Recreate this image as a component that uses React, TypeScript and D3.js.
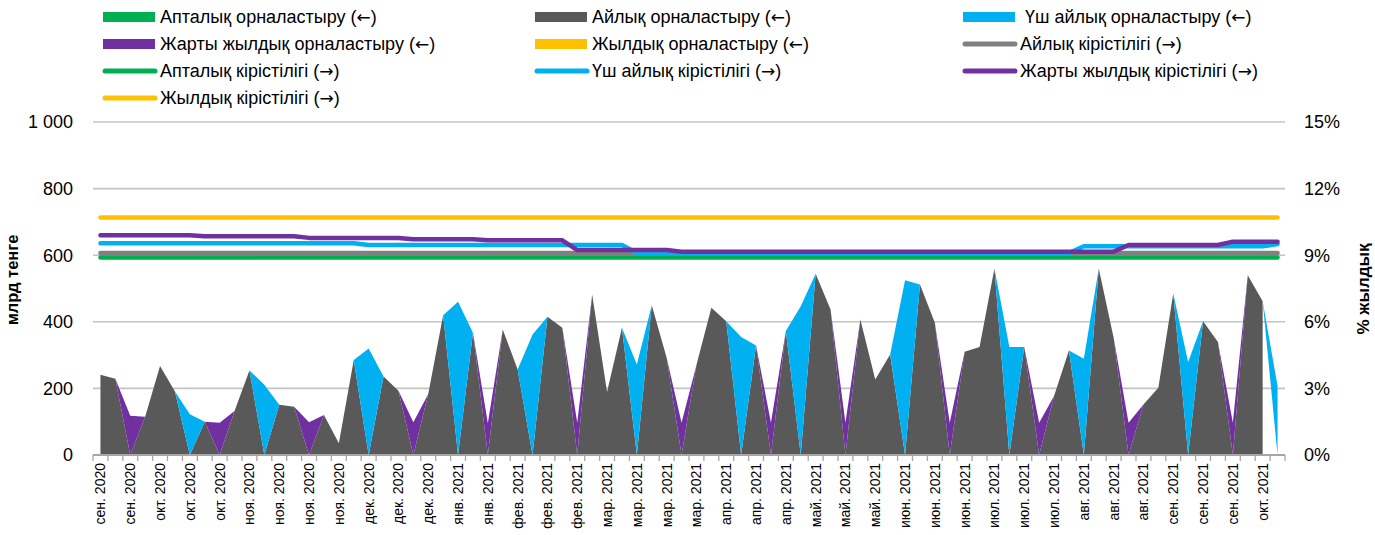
import React from "react";
import * as d3 from "d3";

// ---- Data ----
const tickLabels = [
  "сен. 2020", "сен. 2020", "окт. 2020", "окт. 2020", "окт. 2020",
  "ноя. 2020", "ноя. 2020", "ноя. 2020", "ноя. 2020", "дек. 2020",
  "дек. 2020", "дек. 2020", "янв. 2021", "янв. 2021", "фев. 2021",
  "фев. 2021", "фев. 2021", "мар. 2021", "мар. 2021", "мар. 2021",
  "мар. 2021", "апр. 2021", "апр. 2021", "апр. 2021", "май. 2021",
  "май. 2021", "май. 2021", "июн. 2021", "июн. 2021", "июн. 2021",
  "июл. 2021", "июл. 2021", "июл. 2021", "авг. 2021", "авг. 2021",
  "авг. 2021", "сен. 2021", "сен. 2021", "сен. 2021", "окт. 2021",
];

// placements, bn tenge (left axis), one value per auction date
const weeklyPlacement = [
  0, 0, 0, 0, 0, 0, 0, 0, 0, 0,
  0, 0, 0, 0, 0, 0, 0, 0, 0, 0,
  0, 0, 0, 0, 0, 0, 0, 0, 0, 0,
  0, 0, 0, 0, 0, 0, 0, 0, 0, 0,
  0, 0, 0, 0, 0, 0, 0, 0, 0, 0,
  0, 0, 0, 0, 0, 0, 0, 0, 0, 0,
  0, 0, 0, 0, 0, 0, 0, 0, 0, 0,
  0, 0, 0, 0, 0, 0, 0, 0, 0, 0,
];
const monthlyPlacement: (number | null)[] = [
  241, 229, 0, 115, 267, 191, 0, 100, 0, 132,
  254, 0, 151, 145, 0, 120, 35, 285, 0, 236,
  193, 0, 183, 420, 0, 367, 0, 377, 257, 0,
  415, 382, 0, 482, 189, 382, 0, 450, 292, 0,
  270, 442, 402, 0, 329, 0, 372, 0, 544, 437,
  0, 407, 227, 302, 0, 512, 397, 0, 310, 324,
  560, 0, 324, 0, 177, 314, 0, 560, 352, 0,
  152, 202, 485, 0, 402, 339, 0, 540, 462, null,
];
const threeMonthPlacement = [
  0, 0, 0, 0, 0, 0, 122, 0, 0, 0,
  0, 211, 0, 0, 0, 0, 0, 0, 320, 0,
  0, 0, 0, 0, 460, 0, 0, 0, 0, 362,
  0, 0, 0, 0, 0, 0, 272, 0, 0, 0,
  0, 0, 0, 354, 0, 0, 0, 447, 0, 0,
  0, 0, 0, 0, 525, 0, 0, 0, 0, 0,
  0, 324, 0, 0, 0, 0, 289, 0, 0, 0,
  0, 0, 0, 279, 0, 0, 0, 0, 0, 207,
];
const halfYearPlacement = [
  0, 0, 118, 0, 0, 0, 0, 0, 97, 0,
  0, 0, 0, 0, 98, 0, 0, 0, 0, 0,
  0, 98, 0, 0, 0, 0, 95, 0, 0, 0,
  0, 0, 97, 0, 0, 0, 0, 0, 0, 97,
  0, 0, 0, 0, 0, 97, 0, 0, 0, 0,
  97, 0, 0, 0, 0, 0, 0, 97, 0, 0,
  0, 0, 0, 97, 0, 0, 0, 0, 0, 97,
  0, 0, 0, 0, 0, 0, 97, 0, 0, 0,
];
const yearlyPlacement = [
  0, 0, 0, 0, 0, 0, 0, 0, 0, 0,
  0, 0, 0, 0, 0, 0, 0, 0, 0, 0,
  0, 0, 0, 0, 0, 0, 0, 0, 0, 0,
  0, 0, 0, 0, 0, 0, 0, 0, 0, 0,
  0, 0, 0, 0, 0, 0, 0, 0, 0, 0,
  0, 0, 0, 0, 0, 0, 0, 0, 0, 0,
  0, 0, 0, 0, 0, 0, 0, 0, 0, 0,
  0, 0, 0, 0, 0, 0, 0, 0, 0, 0,
];

// yields, % p.a. (right axis)
const monthlyYield = [
  9.1, 9.1, 9.1, 9.1, 9.1, 9.1, 9.1, 9.1, 9.1, 9.1,
  9.1, 9.1, 9.1, 9.1, 9.1, 9.1, 9.1, 9.1, 9.1, 9.1,
  9.1, 9.1, 9.1, 9.1, 9.1, 9.1, 9.1, 9.1, 9.1, 9.1,
  9.1, 9.1, 9.1, 9.1, 9.1, 9.1, 9.1, 9.1, 9.1, 9.1,
  9.1, 9.1, 9.1, 9.1, 9.1, 9.1, 9.1, 9.1, 9.1, 9.1,
  9.1, 9.1, 9.1, 9.1, 9.1, 9.1, 9.1, 9.1, 9.1, 9.1,
  9.1, 9.1, 9.1, 9.1, 9.1, 9.1, 9.1, 9.1, 9.1, 9.1,
  9.1, 9.1, 9.1, 9.1, 9.1, 9.1, 9.1, 9.1, 9.1, 9.1,
];
const weeklyYield = [
  8.9, 8.9, 8.9, 8.9, 8.9, 8.9, 8.9, 8.9, 8.9, 8.9,
  8.9, 8.9, 8.9, 8.9, 8.9, 8.9, 8.9, 8.9, 8.9, 8.9,
  8.9, 8.9, 8.9, 8.9, 8.9, 8.9, 8.9, 8.9, 8.9, 8.9,
  8.9, 8.9, 8.9, 8.9, 8.9, 8.9, 8.9, 8.9, 8.9, 8.9,
  8.9, 8.9, 8.9, 8.9, 8.9, 8.9, 8.9, 8.9, 8.9, 8.9,
  8.9, 8.9, 8.9, 8.9, 8.9, 8.9, 8.9, 8.9, 8.9, 8.9,
  8.9, 8.9, 8.9, 8.9, 8.9, 8.9, 8.9, 8.9, 8.9, 8.9,
  8.9, 8.9, 8.9, 8.9, 8.9, 8.9, 8.9, 8.9, 8.9, 8.9,
];
const threeMonthYield = [
  9.54, 9.54, 9.54, 9.54, 9.54, 9.54, 9.54, 9.54, 9.54, 9.54,
  9.54, 9.54, 9.54, 9.54, 9.54, 9.54, 9.54, 9.54, 9.46, 9.46,
  9.46, 9.46, 9.46, 9.46, 9.46, 9.46, 9.46, 9.46, 9.46, 9.46,
  9.46, 9.46, 9.46, 9.46, 9.46, 9.46, 9.1, 9.1, 9.1, 9.1,
  9.1, 9.1, 9.1, 9.1, 9.1, 9.1, 9.1, 9.1, 9.1, 9.1,
  9.1, 9.1, 9.1, 9.1, 9.1, 9.1, 9.1, 9.1, 9.1, 9.1,
  9.1, 9.1, 9.1, 9.1, 9.1, 9.1, 9.4, 9.4, 9.4, 9.4,
  9.4, 9.4, 9.4, 9.4, 9.4, 9.4, 9.4, 9.4, 9.4, 9.5,
];
const halfYearYield = [
  9.9, 9.9, 9.9, 9.9, 9.9, 9.9, 9.9, 9.85, 9.85, 9.85,
  9.85, 9.85, 9.85, 9.85, 9.78, 9.78, 9.78, 9.78, 9.78, 9.78,
  9.78, 9.72, 9.72, 9.72, 9.72, 9.72, 9.67, 9.67, 9.67, 9.67,
  9.67, 9.67, 9.23, 9.23, 9.23, 9.23, 9.23, 9.23, 9.23, 9.16,
  9.16, 9.16, 9.16, 9.16, 9.16, 9.16, 9.16, 9.16, 9.16, 9.16,
  9.16, 9.16, 9.16, 9.16, 9.16, 9.16, 9.16, 9.16, 9.16, 9.16,
  9.16, 9.16, 9.16, 9.16, 9.16, 9.16, 9.16, 9.16, 9.16, 9.46,
  9.46, 9.46, 9.46, 9.46, 9.46, 9.46, 9.61, 9.61, 9.61, 9.61,
];
const yearlyYield = [
  10.7, 10.7, 10.7, 10.7, 10.7, 10.7, 10.7, 10.7, 10.7, 10.7,
  10.7, 10.7, 10.7, 10.7, 10.7, 10.7, 10.7, 10.7, 10.7, 10.7,
  10.7, 10.7, 10.7, 10.7, 10.7, 10.7, 10.7, 10.7, 10.7, 10.7,
  10.7, 10.7, 10.7, 10.7, 10.7, 10.7, 10.7, 10.7, 10.7, 10.7,
  10.7, 10.7, 10.7, 10.7, 10.7, 10.7, 10.7, 10.7, 10.7, 10.7,
  10.7, 10.7, 10.7, 10.7, 10.7, 10.7, 10.7, 10.7, 10.7, 10.7,
  10.7, 10.7, 10.7, 10.7, 10.7, 10.7, 10.7, 10.7, 10.7, 10.7,
  10.7, 10.7, 10.7, 10.7, 10.7, 10.7, 10.7, 10.7, 10.7, 10.7,
];

const leftTicks = [0, 200, 400, 600, 800, 1000];
const rightTicks = [0, 3, 6, 9, 12, 15];

const legendLabels = [
  "Апталық орналастыру (←)",
  "Айлық орналастыру (←)",
  "\u00A0Үш айлық орналастыру (←)",
  "Жарты жылдық орналастыру (←)",
  "Жылдық орналастыру (←)",
  "Айлық кірістілігі (→)",
  "Апталық кірістілігі (→)",
  "Үш айлық кірістілігі (→)",
  "Жарты жылдық кірістілігі (→)",
  "Жылдық кірістілігі (→)",
];

// ---- Styles ----
const C = {
  green: "#00b050",
  dark: "#595959",
  blue: "#00b0f0",
  purple: "#7030a0",
  yellow: "#ffc000",
  gray: "#808080",
};
const FONT = "'Liberation Sans', Arial, sans-serif";

// render the arrow glyph with a font whose arrows are long, like the original
function LegendText({ label }: { label: string }) {
  const parts = label.split(/([←→])/);
  return (
    <>
      {parts.map((p, i) =>
        p === "←" || p === "→" ? (
          <tspan key={i} fontFamily="'DejaVu Sans', sans-serif" fontSize={17}>
            {p}
          </tspan>
        ) : (
          <tspan key={i}>{p}</tspan>
        )
      )}
    </>
  );
}

export default function App() {
  const W = 1375;
  const H = 535;
  const n = monthlyPlacement.length;
  const x = d3.scaleBand<number>().domain(d3.range(n)).range([93, 1285]).padding(0);
  const cx = (i: number) => (x(i) as number) + x.bandwidth() / 2;
  const yL = d3.scaleLinear().domain([0, 1000]).range([455, 122]);
  const yR = d3.scaleLinear().domain([0, 15]).range([455, 122]);

  const keys = ["weekly", "monthly", "threeMonth", "halfYear", "yearly"];
  const raw: Record<string, (number | null)[]> = {
    weekly: weeklyPlacement,
    monthly: monthlyPlacement,
    threeMonth: threeMonthPlacement,
    halfYear: halfYearPlacement,
    yearly: yearlyPlacement,
  };
  const areaColors: Record<string, string> = {
    weekly: C.green,
    monthly: C.dark,
    threeMonth: C.blue,
    halfYear: C.purple,
    yearly: C.yellow,
  };
  const rows = d3.range(n).map((i) => {
    const r: Record<string, number> = {};
    keys.forEach((k) => (r[k] = (raw[k][i] ?? 0) as number));
    return r;
  });
  const stacked = d3.stack<Record<string, number>>().keys(keys)(rows);

  const lineSeries = [
    { vals: monthlyYield, color: C.gray },
    { vals: weeklyYield, color: C.green },
    { vals: threeMonthYield, color: C.blue },
    { vals: halfYearYield, color: C.purple },
    { vals: yearlyYield, color: C.yellow },
  ];
  const line = d3
    .line<number>()
    .x((_, i) => cx(i))
    .y((d) => yR(d));

  const legendColors = [C.green, C.dark, C.blue, C.purple, C.yellow, C.gray, C.green, C.blue, C.purple, C.yellow];
  const colX = [103, 535, 963];
  const textX = [160, 592, 1020];

  return (
    <svg width={W} height={H} style={{ position: "absolute", left: 0, top: 0, background: "#fff" }} fontFamily={FONT}>
      {/* gridlines */}
      {leftTicks.filter((t) => t > 0).map((t) => (
        <line key={"g" + t} x1={93} x2={1285} y1={yL(t)} y2={yL(t)} stroke="#c4c4c4" strokeWidth={1.6} />
      ))}
      {/* stacked areas */}
      {stacked.map((s) => {
        const key = s.key;
        const area = d3
          .area<d3.SeriesPoint<Record<string, number>>>()
          .defined((_, i) => raw[key][i] !== null)
          .x((_, i) => cx(i))
          .y0((d) => yL(d[0]))
          .y1((d) => yL(d[1]));
        return <path key={key} d={area(s) || ""} fill={areaColors[key]} />;
      })}
      {/* x axis */}
      <line x1={93} x2={1285} y1={455} y2={455} stroke="#a6a6a6" strokeWidth={2} />
      {d3.range(n + 1).map((i) => {
        const xx = i < n ? (x(i) as number) : 1285;
        return <line key={"t" + i} x1={xx} x2={xx} y1={455} y2={461} stroke="#a6a6a6" strokeWidth={1.3} />;
      })}
      {tickLabels.map((lab, j) => {
        const i = j * 2;
        return (
          <text
            key={"xl" + j}
            transform={`translate(${cx(i)},463) rotate(-90)`}
            textAnchor="end"
            dy="0.36em"
            fontSize={14}
            fill="#000"
          >
            {lab}
          </text>
        );
      })}
      {/* yield lines */}
      {lineSeries.map((s, k) => (
        <path
          key={"l" + k}
          d={line(s.vals) || ""}
          fill="none"
          stroke={s.color}
          strokeWidth={4.5}
          strokeLinecap="round"
          strokeLinejoin="round"
        />
      ))}
      {/* left axis labels */}
      {leftTicks.map((t) => (
        <text key={"yl" + t} x={73} y={yL(t)} dy="0.35em" textAnchor="end" fontSize={18} fill="#000">
          {d3.format(",")(t).replace(",", " ")}
        </text>
      ))}
      {rightTicks.map((t) => (
        <text key={"yr" + t} x={1304} y={yR(t)} dy="0.35em" textAnchor="start" fontSize={18} fill="#000">
          {t + "%"}
        </text>
      ))}
      <text transform="translate(18,280) rotate(-90)" textAnchor="middle" fontSize={16.5} fontWeight="bold">
        млрд тенге
      </text>
      <text transform="translate(1369,289) rotate(-90)" textAnchor="middle" fontSize={17} fontWeight="bold">
        % жылдық
      </text>
      {/* legend */}
      {legendLabels.map((lab, i) => {
        const col = i % 3;
        const row = Math.floor(i / 3);
        const cy = 17 + row * 27;
        const isRect = i < 5;
        return (
          <g key={"lg" + i}>
            {isRect ? (
              <rect x={colX[col]} y={cy - 5} width={52} height={10} fill={legendColors[i]} />
            ) : (
              <line
                x1={colX[col] + 2}
                x2={colX[col] + 52}
                y1={cy}
                y2={cy}
                stroke={legendColors[i]}
                strokeWidth={5}
                strokeLinecap="round"
              />
            )}
            <text x={textX[col]} y={cy} dy="0.35em" fontSize={18} fill="#000" style={{ whiteSpace: "pre" }}>
              <LegendText label={lab} />
            </text>
          </g>
        );
      })}
    </svg>
  );
}
